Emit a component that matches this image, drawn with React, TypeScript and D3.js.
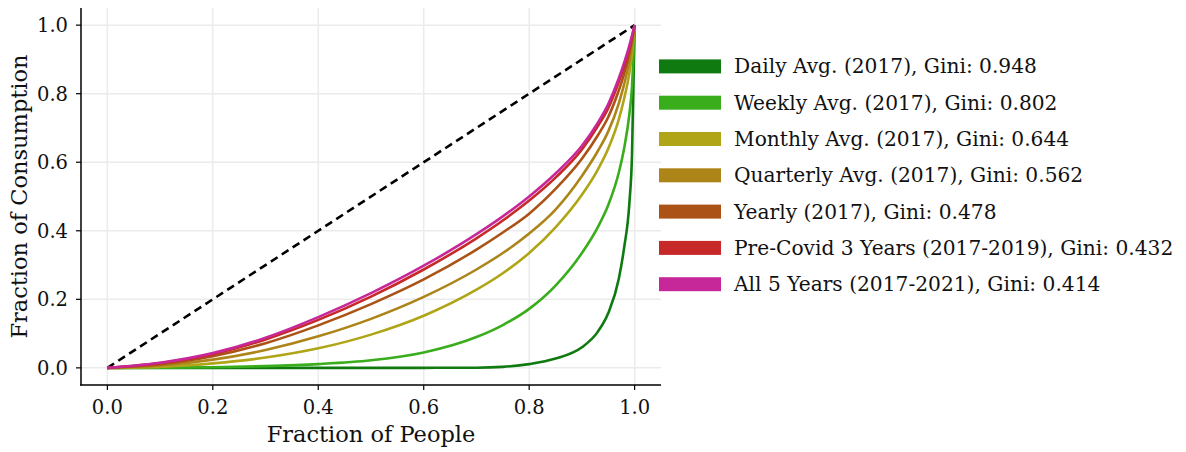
import React from "react";
import * as d3 from "d3";

const peopleShare = [0, 0.1, 0.2, 0.3, 0.4, 0.5, 0.6, 0.7, 0.75, 0.8, 0.85, 0.9, 0.93, 0.95, 0.97, 0.98, 0.99, 0.995, 1];

const dailyAvg = [0, 0, 0, 0, 0, 0, 0.0001, 0.0005, 0.003, 0.011, 0.027, 0.06, 0.105, 0.16, 0.26, 0.35, 0.48, 0.62, 1];
const weeklyAvg = [0, 0.0004, 0.0018, 0.005, 0.011, 0.022, 0.045, 0.09, 0.125, 0.172, 0.24, 0.335, 0.41, 0.475, 0.57, 0.64, 0.74, 0.82, 1];
const monthlyAvg = [0, 0.003, 0.013, 0.03, 0.057, 0.097, 0.152, 0.228, 0.276, 0.335, 0.41, 0.505, 0.578, 0.64, 0.725, 0.785, 0.86, 0.915, 1];
const quarterlyAvg = [0, 0.007, 0.024, 0.052, 0.092, 0.143, 0.207, 0.287, 0.335, 0.392, 0.462, 0.56, 0.632, 0.69, 0.772, 0.827, 0.895, 0.94, 1];
const yearly = [0, 0.011, 0.034, 0.072, 0.124, 0.186, 0.258, 0.345, 0.395, 0.45, 0.522, 0.61, 0.678, 0.732, 0.81, 0.858, 0.918, 0.955, 1];
const preCovid = [0, 0.014, 0.04, 0.083, 0.14, 0.208, 0.287, 0.378, 0.43, 0.488, 0.555, 0.637, 0.705, 0.758, 0.835, 0.88, 0.933, 0.964, 1];
const allYears = [0, 0.015, 0.043, 0.088, 0.148, 0.218, 0.298, 0.39, 0.442, 0.5, 0.567, 0.648, 0.715, 0.77, 0.845, 0.89, 0.94, 0.97, 1];

const seriesNames = [
  "Daily Avg. (2017), Gini: 0.948",
  "Weekly Avg. (2017), Gini: 0.802",
  "Monthly Avg. (2017), Gini: 0.644",
  "Quarterly Avg. (2017), Gini: 0.562",
  "Yearly (2017), Gini: 0.478",
  "Pre-Covid 3 Years (2017-2019), Gini: 0.432",
  "All 5 Years (2017-2021), Gini: 0.414",
];
const seriesValues = [dailyAvg, weeklyAvg, monthlyAvg, quarterlyAvg, yearly, preCovid, allYears];
const seriesColors = ["#0f7a10", "#39ad1c", "#afa517", "#ad8418", "#ab5316", "#c72828", "#c72899"];

const tickValues = [0, 0.2, 0.4, 0.6, 0.8, 1.0];

const FONT = "'DejaVu Serif', serif";

export default function App() {
  const width = 1186;
  const height = 452;
  const left = 81, right = 661, top = 8, bottom = 385;

  const x = d3.scaleLinear().domain([-0.05, 1.05]).range([left, right]);
  const y = d3.scaleLinear().domain([-0.05, 1.05]).range([bottom, top]);

  const line = d3
    .line<[number, number]>()
    .x((d) => x(d[0]))
    .y((d) => y(d[1]))
    .curve(d3.curveMonotoneX);

  const legendX = 659;
  const legendY0 = 66.4;
  const legendStep = 36.3;

  return (
    <svg
      width={width}
      height={height}
      style={{ position: "absolute", left: 0, top: 0, background: "#fff" }}
      fontFamily={FONT}
    >
      {/* grid */}
      {tickValues.map((t) => (
        <line key={"gx" + t} x1={x(t)} x2={x(t)} y1={top} y2={bottom} stroke="#ebebeb" strokeWidth={1.5} />
      ))}
      {tickValues.map((t) => (
        <line key={"gy" + t} x1={left} x2={right} y1={y(t)} y2={y(t)} stroke="#ebebeb" strokeWidth={1.5} />
      ))}

      {/* equality line */}
      <line
        x1={x(0)}
        y1={y(0)}
        x2={x(1)}
        y2={y(1)}
        stroke="#000"
        strokeWidth={2.6}
        strokeDasharray="8,5"
      />

      {/* lorenz curves */}
      {seriesValues.map((vals, i) => (
        <path
          key={seriesNames[i]}
          d={line(peopleShare.map((p, j) => [p, vals[j]] as [number, number])) || ""}
          fill="none"
          stroke={seriesColors[i]}
          strokeWidth={2.6}
          strokeLinejoin="round"
        />
      ))}

      {/* spines */}
      <line x1={left} x2={left} y1={top} y2={bottom + 0.75} stroke="#000" strokeWidth={1.5} />
      <line x1={left - 0.75} x2={right} y1={bottom} y2={bottom} stroke="#000" strokeWidth={1.5} />

      {/* x ticks */}
      {tickValues.map((t) => (
        <g key={"xt" + t}>
          <line x1={x(t)} x2={x(t)} y1={bottom} y2={bottom + 5} stroke="#000" strokeWidth={1.2} />
          <text x={x(t)} y={413.5} textAnchor="middle" fontSize={19.5} fill="#111">
            {t.toFixed(1)}
          </text>
        </g>
      ))}

      {/* y ticks */}
      {tickValues.map((t) => (
        <g key={"yt" + t}>
          <line x1={left - 5} x2={left} y1={y(t)} y2={y(t)} stroke="#000" strokeWidth={1.2} />
          <text x={68} y={y(t) + 7} textAnchor="end" fontSize={19.5} fill="#111">
            {t.toFixed(1)}
          </text>
        </g>
      ))}

      {/* axis labels */}
      <text x={(left + right) / 2} y={442} textAnchor="middle" fontSize={22.5} fill="#111">
        Fraction of People
      </text>
      <text
        transform={`translate(27,${(top + bottom) / 2}) rotate(-90)`}
        textAnchor="middle"
        fontSize={22.5}
        fill="#111"
      >
        Fraction of Consumption
      </text>

      {/* legend */}
      {seriesNames.map((name, i) => (
        <g key={"lg" + i} transform={`translate(${legendX},${legendY0 + i * legendStep})`}>
          <rect x={0} y={-7} width={62} height={14} fill={seriesColors[i]} />
          <text x={75} y={7} fontSize={20.2} fill="#111">
            {name}
          </text>
        </g>
      ))}
    </svg>
  );
}
